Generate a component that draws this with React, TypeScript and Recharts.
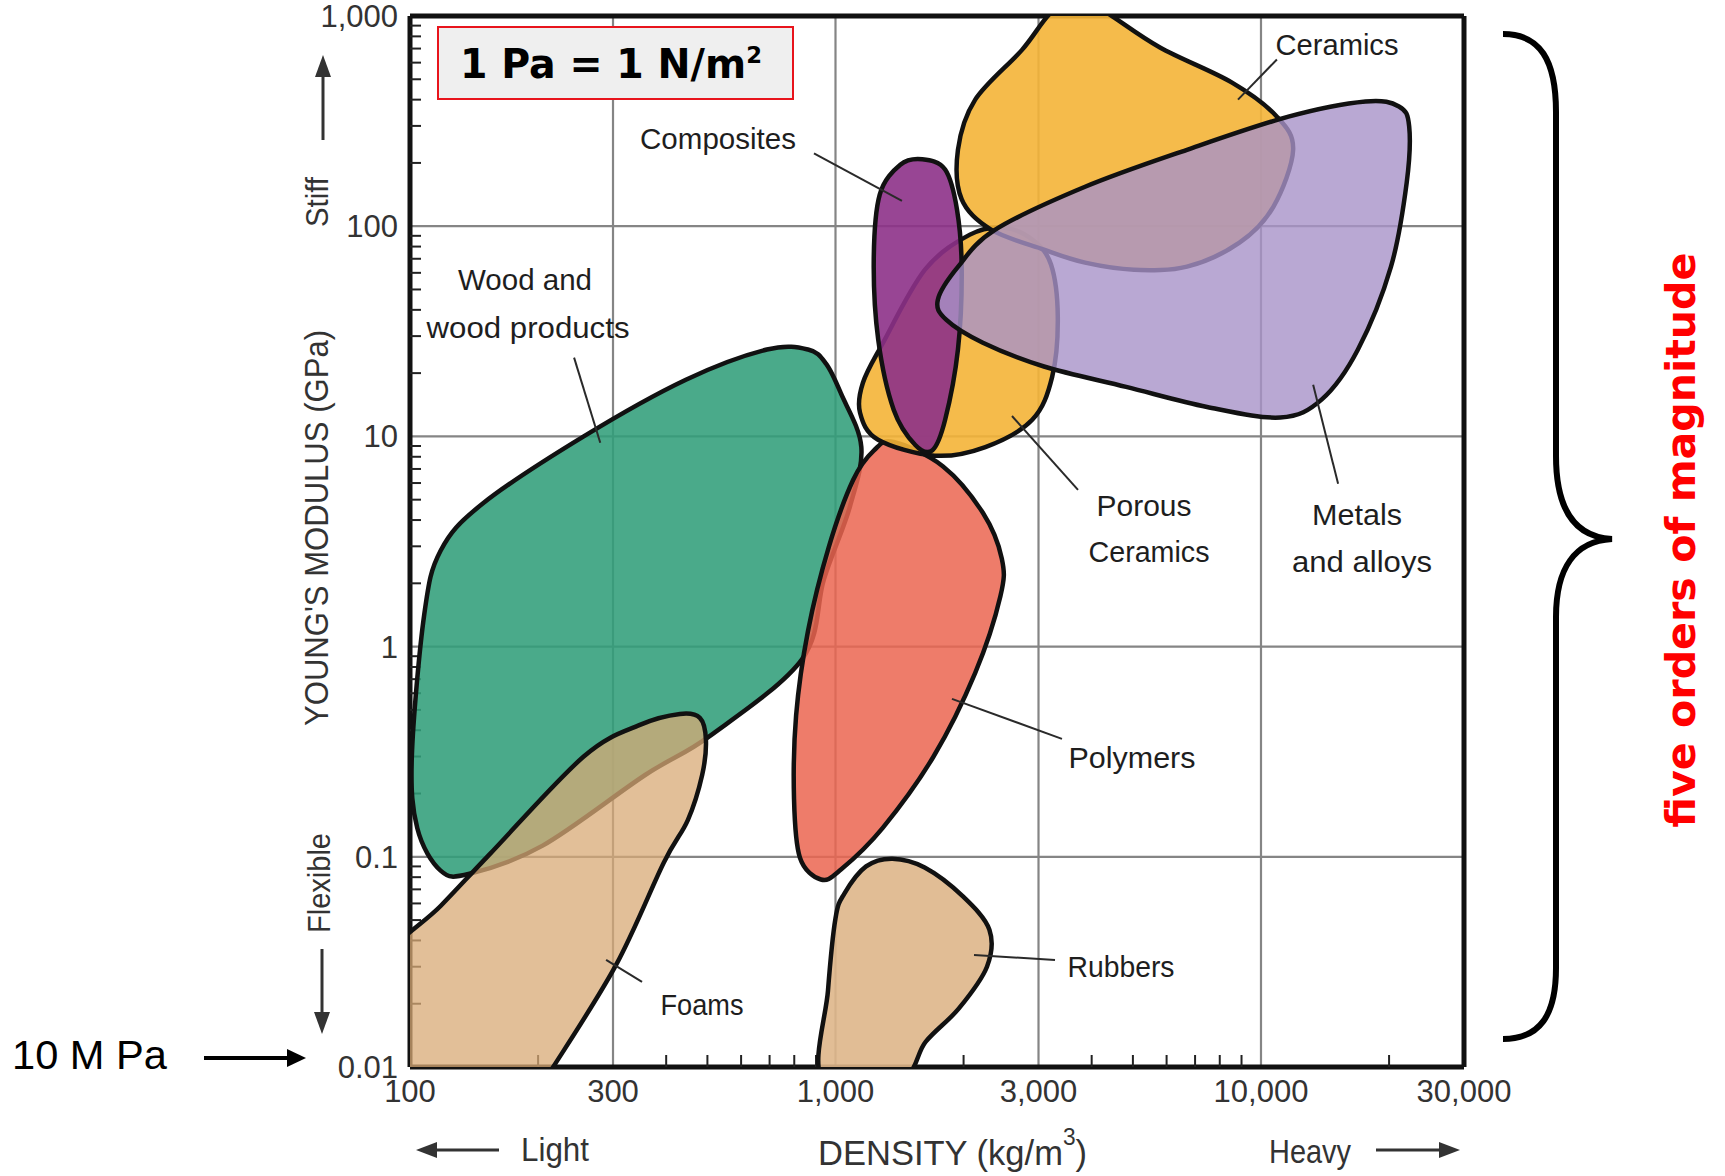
import React from "react";
import {
  ScatterChart,
  Scatter,
  XAxis,
  YAxis,
  CartesianGrid,
} from "recharts";

// axis ticks
const X_TICKS = [100, 300, 1000, 3000, 10000, 30000];
const Y_TICKS = [0.01, 0.1, 1, 10, 100, 1000];
const X_MINOR = [200, 400, 500, 600, 700, 800, 900, 2000, 4000, 5000, 6000, 7000, 8000, 9000, 20000];
const Y_MINOR = [
  0.02, 0.03, 0.04, 0.05, 0.06, 0.07, 0.08, 0.09,
  0.2, 0.3, 0.4, 0.5, 0.6, 0.7, 0.8, 0.9,
  2, 3, 4, 5, 6, 7, 8, 9,
  20, 30, 40, 50, 60, 70, 80, 90,
  200, 300, 400, 500, 600, 700, 800, 900,
];

// material envelopes: [density kg/m3, Young's modulus GPa]
const WOOD = [
  [690, 25.9], [862, 25.9], [950, 22.2], [1030, 16], [1150, 8.9], [1080, 4.6],
  [940, 2.1], [834, 0.87], [507, 0.376], [357, 0.245], [205, 0.113], [138, 0.083],
  [118, 0.086], [104, 0.137], [101, 0.3], [108, 1.42], [118, 2.86], [148, 4.78],
  [256, 10], [445, 18.6],
];
const POLYMERS = [
  [1370, 9.4], [1790, 7.2], [2220, 4.33], [2460, 2.62], [2440, 1.73], [2130, 0.75],
  [1700, 0.3], [1290, 0.137], [1030, 0.087], [924, 0.078], [825, 0.099], [799, 0.188],
  [808, 0.47], [862, 1.19], [965, 2.99], [1100, 6.2], [1230, 8.55],
];
const FOAMS = [
  [80.5, 0.0265], [118, 0.0583], [154, 0.103], [256, 0.3], [347, 0.424], [431, 0.478],
  [480, 0.458], [496, 0.36], [486, 0.245], [450, 0.15], [395, 0.094], [305, 0.0306],
  [217, 0.01], [202, 0.0082], [80.5, 0.0082],
];
const RUBBERS = [
  [1000, 0.051], [1050, 0.067], [1180, 0.09], [1360, 0.098], [1620, 0.089], [1990, 0.065],
  [2300, 0.045], [2270, 0.03], [1950, 0.019], [1630, 0.0132], [1420, 0.0087], [934, 0.0087],
  [960, 0.023],
];
const POROUS = [
  [2480, 98.5], [2900, 86.4], [3210, 65.7], [3330, 37.1], [3230, 19.2], [2900, 12],
  [2250, 8.9], [1710, 8.1], [1259, 9.64], [1142, 12.96], [1160, 18], [1286, 27.3],
  [1623, 62.1], [2070, 91.2],
];
const CERAMICS = [
  [2130, 400], [2744, 690], [3228, 1050], [3756, 1198], [4298, 1050], [5789, 708],
  [8550, 482], [10900, 332], [11900, 231], [10700, 124], [8900, 83.5], [6700, 64.2],
  [5030, 62.1], [3860, 67.1], [3090, 77.4], [2320, 96.3], [1980, 134], [1940, 231],
];
const COMPOSITES = [
  [1600, 208], [1810, 186], [1930, 120], [1980, 62], [1940, 25.9], [1810, 12],
  [1690, 8.6], [1540, 9.1], [1370, 13.4], [1260, 28.9], [1230, 69], [1270, 141],
  [1420, 196],
];
const METALS = [
  [1740, 44.7], [1940, 64], [2370, 96], [3860, 154], [6700, 231], [11600, 332],
  [17600, 392], [21100, 371], [22300, 298], [22000, 161], [20200, 64], [16900, 25.9],
  [13900, 15], [11100, 12.3], [7470, 13.8], [4820, 17.2], [3090, 21.5], [2220, 27.9],
  [1820, 35.9],
];

// leader lines from label to envelope
const LEADERS = [
  [[10900, 621], [8830, 400]],
  [[890, 222], [1433, 132]],
  [[243, 23.7], [280, 9.33]],
  [[2599, 12.5], [3715, 5.57]],
  [[13260, 17.6], [15180, 5.95]],
  [[1878, 0.564], [3406, 0.364]],
  [[2116, 0.0341], [3280, 0.0323]],
  [[289, 0.0323], [351, 0.0254]],
];

const SERIES = [
  { name: "Wood", pts: WOOD, fill: "#319e7a", op: 0.88 },
  { name: "Polymers", pts: POLYMERS, fill: "#eb6550", op: 0.85 },
  { name: "Foams", pts: FOAMS, fill: "#d8aa76", op: 0.75 },
  { name: "Rubbers", pts: RUBBERS, fill: "#deb68a", op: 0.9 },
  { name: "Porous", pts: POROUS, fill: "#f4b437", op: 0.9 },
  { name: "Ceramics", pts: CERAMICS, fill: "#f4b437", op: 0.9 },
  { name: "Composites", pts: COMPOSITES, fill: "#8d3188", op: 0.9 },
  { name: "Metals", pts: METALS, fill: "#a892c8", op: 0.8 },
];

const LABELS = [
  { text: "Ceramics", x: 1337, y: 55, w: 123 },
  { text: "Composites", x: 718, y: 149, w: 156 },
  { text: "Wood and", x: 525, y: 290, w: 134 },
  { text: "wood products", x: 528, y: 338, w: 203 },
  { text: "Porous", x: 1144, y: 516, w: 95 },
  { text: "Ceramics", x: 1149, y: 562, w: 121 },
  { text: "Metals", x: 1357, y: 525, w: 90 },
  { text: "and alloys", x: 1362, y: 572, w: 140 },
  { text: "Polymers", x: 1132, y: 768, w: 127 },
  { text: "Rubbers", x: 1121, y: 977, w: 107 },
  { text: "Foams", x: 702, y: 1015, w: 83 },
];

const FONT = "'Liberation Sans', Arial, sans-serif";
const DOMAIN_X = [100, 30000];
const DOMAIN_Y = [0.01, 1000];

function closedPath(pts: { x: number; y: number }[]) {
  const n = pts.length;
  if (!n) return "";
  let d = `M${pts[0].x},${pts[0].y}`;
  for (let i = 0; i < n; i++) {
    const p0 = pts[(i - 1 + n) % n];
    const p1 = pts[i];
    const p2 = pts[(i + 1) % n];
    const p3 = pts[(i + 2) % n];
    d += ` C${p1.x + (p2.x - p0.x) / 6},${p1.y + (p2.y - p0.y) / 6} ${p2.x - (p3.x - p1.x) / 6},${p2.y - (p3.y - p1.y) / 6} ${p2.x},${p2.y}`;
  }
  return d + "Z";
}

const outline = (fill: string, opacity: number) => (props: any) => (
  <path
    d={closedPath(props.points || [])}
    fill={fill}
    fillOpacity={opacity}
    stroke="#111"
    strokeWidth={4.5}
    strokeLinejoin="round"
  />
);

const leaderLine = (props: any) => {
  const p = props.points || [];
  if (p.length < 2) return <g />;
  return <line x1={p[0].x} y1={p[0].y} x2={p[1].x} y2={p[1].y} stroke="#2a2a2a" strokeWidth={2} />;
};

const noDot = () => <g />;
const fmt = (v: number) => v.toLocaleString("en-US");

export default function App() {
  return (
    <div style={{ position: "absolute", left: 0, top: 0, width: 1725, height: 1176, background: "#fff" }}>
      <ScatterChart width={1725} height={1176} margin={{ top: 16, right: 261, bottom: 69, left: 350 }}>
        <CartesianGrid stroke="#858585" strokeWidth={2.2} />
        <XAxis
          dataKey="x"
          type="number"
          scale="log"
          domain={DOMAIN_X}
          allowDataOverflow
          ticks={X_TICKS}
          interval={0}
          tickFormatter={fmt}
          height={40}
          tickSize={6}
          tickMargin={7}
          tickLine={false}
          axisLine={{ stroke: "#111", strokeWidth: 5 }}
          tick={{ fill: "#333", fontSize: 31, fontFamily: FONT }}
        />
        <YAxis
          dataKey="y"
          type="number"
          scale="log"
          domain={DOMAIN_Y}
          allowDataOverflow
          ticks={Y_TICKS}
          interval={0}
          tickFormatter={fmt}
          width={60}
          tickSize={6}
          tickMargin={6}
          tickLine={false}
          axisLine={{ stroke: "#111", strokeWidth: 5 }}
          tick={{ fill: "#333", fontSize: 31, fontFamily: FONT }}
        />
        <XAxis
          xAxisId="minor"
          dataKey="x"
          type="number"
          scale="log"
          domain={DOMAIN_X}
          allowDataOverflow
          ticks={X_MINOR}
          interval={0}
          mirror
          height={20}
          tickSize={12}
          tick={noDot}
          axisLine={false}
          tickLine={{ stroke: "#222", strokeWidth: 2 }}
        />
        <YAxis
          yAxisId="minor"
          dataKey="y"
          type="number"
          scale="log"
          domain={DOMAIN_Y}
          allowDataOverflow
          ticks={Y_MINOR}
          interval={0}
          mirror
          width={20}
          tickSize={11}
          tick={noDot}
          axisLine={false}
          tickLine={{ stroke: "#222", strokeWidth: 2 }}
        />
        <XAxis
          xAxisId="top"
          orientation="top"
          dataKey="x"
          type="number"
          scale="log"
          domain={DOMAIN_X}
          allowDataOverflow
          ticks={X_TICKS}
          mirror
          height={20}
          tick={false}
          tickLine={false}
          axisLine={{ stroke: "#111", strokeWidth: 5 }}
        />
        <YAxis
          yAxisId="right"
          orientation="right"
          dataKey="y"
          type="number"
          scale="log"
          domain={DOMAIN_Y}
          allowDataOverflow
          ticks={Y_TICKS}
          mirror
          width={20}
          tick={false}
          tickLine={false}
          axisLine={{ stroke: "#111", strokeWidth: 5 }}
        />
        {SERIES.map((s) => (
          <Scatter
            key={s.name}
            name={s.name}
            data={s.pts.map(([x, y]) => ({ x, y }))}
            fill={s.fill}
            shape={noDot}
            line={outline(s.fill, s.op)}
            lineJointType="linear"
            legendType="none"
            isAnimationActive={false}
          />
        ))}
        {LEADERS.map((seg, i) => (
          <Scatter
            key={`leader-${i}`}
            xAxisId="minor"
            yAxisId="minor"
            data={seg.map(([x, y]) => ({ x, y }))}
            fill="#2a2a2a"
            shape={noDot}
            line={leaderLine}
            legendType="none"
            isAnimationActive={false}
          />
        ))}
      </ScatterChart>

      <svg
        width={1725}
        height={1176}
        style={{ position: "absolute", left: 0, top: 0, pointerEvents: "none" }}
        fontFamily={FONT}
      >
        {LABELS.map((l, i) => (
          <text
            key={i}
            x={l.x}
            y={l.y}
            textAnchor="middle"
            fontSize={30}
            fill="#1e1e1e"
            textLength={l.w}
            lengthAdjust="spacingAndGlyphs"
          >
            {l.text}
          </text>
        ))}

        {/* unit box */}
        <rect x={438} y={27} width={355} height={72} fill="#efefef" stroke="#e8141c" strokeWidth={2} />
        <text
          x={460}
          y={78}
          fontSize={40}
          fontWeight="bold"
          fontFamily="'Comic Sans MS', 'DejaVu Sans', sans-serif"
          fill="#000"
          textLength={302}
          lengthAdjust="spacingAndGlyphs"
        >
          1 Pa = 1 N/m
          <tspan dy={-15} fontSize={23}>
            2
          </tspan>
        </text>

        {/* y-axis titles */}
        <text
          transform="translate(328,528) rotate(-90)"
          textAnchor="middle"
          fontSize={34}
          fill="#333"
          textLength={396}
          lengthAdjust="spacingAndGlyphs"
        >
          YOUNG'S MODULUS (GPa)
        </text>
        <text transform="translate(328,202) rotate(-90)" textAnchor="middle" fontSize={32} fill="#333" textLength={50} lengthAdjust="spacingAndGlyphs">
          Stiff
        </text>
        <text transform="translate(330,883) rotate(-90)" textAnchor="middle" fontSize={32} fill="#333" textLength={100} lengthAdjust="spacingAndGlyphs">
          Flexible
        </text>
        <line x1={323} y1={140} x2={323} y2={72} stroke="#333" strokeWidth={3} />
        <polygon points="323,55 315,77 331,77" fill="#333" />
        <line x1={322} y1={949} x2={322} y2={1015} stroke="#333" strokeWidth={3} />
        <polygon points="322,1034 314,1012 330,1012" fill="#333" />

        {/* x-axis titles */}
        <text x={818} y={1165} fontSize={35} fill="#333" textLength={269} lengthAdjust="spacingAndGlyphs">
          DENSITY (kg/m
          <tspan dy={-20} fontSize={23}>
            3
          </tspan>
          <tspan dy={20}>)</tspan>
        </text>
        <text x={521} y={1161} fontSize={34} fill="#333" textLength={68} lengthAdjust="spacingAndGlyphs">
          Light
        </text>
        <line x1={499} y1={1150} x2={434} y2={1150} stroke="#333" strokeWidth={3} />
        <polygon points="416,1150 437,1142 437,1158" fill="#333" />
        <text x={1269} y={1163} fontSize={34} fill="#333" textLength={82} lengthAdjust="spacingAndGlyphs">
          Heavy
        </text>
        <line x1={1376} y1={1150} x2={1442} y2={1150} stroke="#333" strokeWidth={3} />
        <polygon points="1460,1150 1439,1142 1439,1158" fill="#333" />

        {/* 10 MPa marker */}
        <text x={12} y={1069} fontSize={40} fill="#000" textLength={155} lengthAdjust="spacingAndGlyphs">
          10 M Pa
        </text>
        <line x1={204} y1={1058} x2={290} y2={1058} stroke="#000" strokeWidth={4} />
        <polygon points="306,1058 287,1049 287,1067" fill="#000" />

        {/* brace */}
        <path
          d="M1503,34 C1540,34 1556,60 1556,112 L1556,456 C1556,510 1575,537 1612,539 C1575,541 1556,568 1556,617 L1556,968 C1556,1015 1540,1039 1503,1039"
          fill="none"
          stroke="#000"
          strokeWidth={6}
        />
        <text
          transform="translate(1695,540) rotate(-90)"
          textAnchor="middle"
          fontSize={40}
          fontWeight="bold"
          fontFamily="'Comic Sans MS', 'DejaVu Sans', sans-serif"
          fill="#ff0000"
          textLength={575}
          lengthAdjust="spacingAndGlyphs"
        >
          five orders of magnitude
        </text>
      </svg>
    </div>
  );
}
